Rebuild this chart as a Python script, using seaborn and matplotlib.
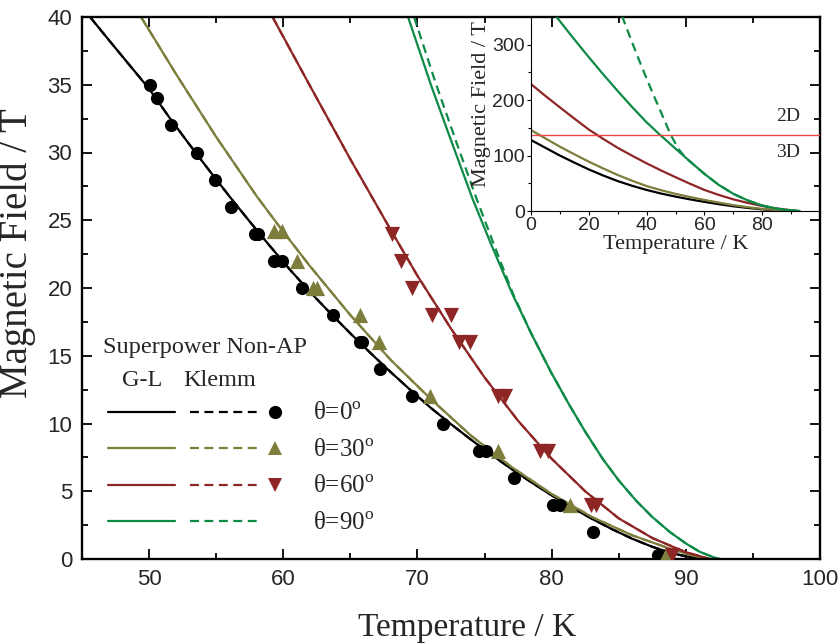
import matplotlib.pyplot as plt
import matplotlib.ticker as ticker
from matplotlib.lines import Line2D
from matplotlib.legend_handler import HandlerBase
import seaborn as sns

# # Data
#
# main panel: G-L fits (K, T)
t_gl_0 = [45.6, 47, 48.5, 50, 51.5, 53, 54.5, 56, 57.5, 59, 60.5, 62, 63.5, 65, 66.5, 68, 69.5,
          71, 72.5, 74, 75.5, 77, 78.5, 80, 81.5, 83, 84.5, 86, 87.5, 89, 90, 91, 91.5]
h_gl_0 = [40, 38.3, 36.5, 34.7, 32.6, 30.6, 28.65, 26.75, 24.9, 23.1, 21.35, 19.7, 18.15, 16.65, 15.2,
          13.8, 12.45, 11.15, 9.95, 8.8, 7.7, 6.65, 5.65, 4.7, 3.8, 2.97, 2.2, 1.5, 0.9, 0.42, 0.2, 0.05, 0]
t_gl_30 = [49.4, 52, 55, 58, 60, 62, 65, 68, 71, 74, 77, 80, 83, 86, 89, 90.5, 91.5]
h_gl_30 = [40, 35.8, 31.15, 26.8, 24.15, 21.6, 18.0, 14.7, 11.8, 9.1, 6.8, 4.8, 3.1, 1.75, 0.7, 0.26, 0]
t_gl_60 = [59.2, 62, 65, 68, 70, 72.5, 75, 77.5, 80, 82.5, 85, 87.5, 90, 91.8]
h_gl_60 = [40, 34.9, 29.5, 24.3, 20.9, 17.0, 13.4, 10.2, 7.4, 5.0, 3.0, 1.55, 0.5, 0]
t_gl_90 = [69.3, 71, 72.5, 74.1, 75.5, 77.1, 78.5, 80, 81.3, 82.5, 83.8, 85, 86.3, 87.5, 88.8,
           90, 91, 92, 92.5]
h_gl_90 = [40, 35.0, 30.9, 26.6, 23.2, 19.5, 16.6, 13.7, 11.4, 9.4, 7.4, 5.8, 4.3, 3.1, 2.0,
           1.15, 0.55, 0.15, 0]

# Klemm fits: on top of the G-L curves except for theta=90
t_kl_90 = [69.75, 71.4, 72.85, 74.4, 75.7, 77.15, 78.5, 80, 81.3, 82.5, 83.8, 85, 86.3, 87.5, 88.8,
           90, 91, 92, 92.5]
h_kl_90 = [40, 35.0, 30.9, 26.6, 23.2, 19.5, 16.6, 13.7, 11.4, 9.4, 7.4, 5.8, 4.3, 3.1, 2.0,
           1.15, 0.55, 0.15, 0]

# measured points, Superpower Non-AP
t_pts_0 = [50.1, 50.6, 51.6, 53.6, 54.9, 56.1, 57.9, 58.1, 59.3, 59.9, 61.4, 63.7,
           65.7, 65.9, 67.2, 69.6, 71.9, 74.6, 75.1, 77.2, 80.1, 80.6, 83.1, 87.9]
h_pts_0 = [35, 34, 32, 30, 28, 26, 24, 24, 22, 22, 20, 18,
           16, 16, 14, 12, 10, 8, 8, 6, 4, 4, 2, 0.3]
t_pts_30 = [59.3, 59.9, 61.0, 62.2, 62.5, 65.7, 67.1, 70.9, 76.0, 81.4, 88.5]
h_pts_30 = [24.2, 24.2, 22, 20, 20, 18, 16, 12, 8, 4, 0.3]
t_pts_60 = [68.1, 68.8, 69.6, 71.1, 72.5, 73.1, 73.9, 76.0, 76.5, 79.1, 79.7, 82.9, 83.3, 89.0]
h_pts_60 = [24, 22, 20, 18, 18, 16, 16, 12, 12, 8, 8, 4, 4, 0.3]

# inset: 0 - 100 K
ti_all = [0, 5, 10, 15, 20, 25, 30, 35, 40, 45, 50, 55, 60, 65, 70, 75, 80, 85, 90, 92]
hi_0 = [128, 114, 100, 87.3, 75, 64, 54, 45.5, 38, 31.5, 26, 21, 16.5, 12.3, 8.5, 5.5, 3, 1.2, 0.3, 0]
hi_30 = [146, 131, 116, 102.3, 89, 76.7, 65, 54.5, 45, 37.5, 31, 25.3, 20, 15.1, 10.5, 6.9, 3.8, 1.7, 0.4, 0]
hi_60 = [229, 207.5, 187, 166.7, 147, 130, 114, 99.7, 86, 73.2, 61, 49.2, 38, 29, 21, 14.6, 9, 4.6, 1.5, 0]
ti_90 = [8.5, 10, 15, 20, 25, 30, 35, 40, 44, 50, 55, 60, 65, 70, 75, 80, 85, 90, 93]
hi_90 = [352, 342.5, 309.5, 277.5, 246.5, 216.5, 187.5, 160, 140.5, 112.5, 89.5, 67, 47, 31, 19, 10, 4.2, 1, 0]
ti_90k = [31.5, 33, 35, 37.8, 40, 42.5, 45, 48.3, 51, 53.5, 56, 60, 65, 70, 75, 80, 85, 90, 93]
hi_90k = [352, 331, 304, 267, 239, 208, 178, 138, 112, 96, 85, 67, 47, 31, 19, 10, 4.2, 1, 0]
h_2d3d = 138

angles = ['0', '30', '60', '90']
colors = {'0': '#000000', '30': '#7d7d3c', '60': '#8e2626', '90': '#0e8a47'}
markers = {'0': 'o', '30': '^', '60': 'v', '90': None}

sns.set_theme(style='ticks')
plt.rcParams['font.family'] = ['Liberation Sans', 'DejaVu Sans']
plt.rcParams['mathtext.fontset'] = 'custom'
plt.rcParams['mathtext.rm'] = 'Liberation Serif'
serif = ['Liberation Serif', 'DejaVu Serif']
dash = (0, (4, 2.5))

fig = plt.figure(figsize=(8.4, 6.44), dpi=100)
ax = fig.add_axes([82 / 840, 1 - 559 / 644, 738 / 840, 542 / 644])

gl = {'0': (t_gl_0, h_gl_0), '30': (t_gl_30, h_gl_30),
      '60': (t_gl_60, h_gl_60), '90': (t_gl_90, h_gl_90)}
kl = {'0': (t_gl_0, h_gl_0), '30': (t_gl_30, h_gl_30),
      '60': (t_gl_60, h_gl_60), '90': (t_kl_90, h_kl_90)}
pts = {'0': (t_pts_0, h_pts_0), '30': (t_pts_30, h_pts_30), '60': (t_pts_60, h_pts_60)}

handles = []
for a in angles:
    c = colors[a]
    sns.lineplot(x=gl[a][0], y=gl[a][1], ax=ax, color=c, lw=1.6, errorbar=None)
    solid = ax.lines[-1]
    sns.lineplot(x=kl[a][0], y=kl[a][1], ax=ax, color=c, lw=1.6, errorbar=None, linestyle=dash)
    dashed = ax.lines[-1]
    if a in pts:
        size = 90 if markers[a] == 'o' else 120
        sns.scatterplot(x=pts[a][0], y=pts[a][1], ax=ax, color=c, marker=markers[a],
                        s=size, linewidth=0, zorder=3)
    handles.append((solid, dashed, markers[a]))

ax.set_xlim(45, 100)
ax.set_ylim(0, 40)
ax.xaxis.set_major_locator(ticker.MultipleLocator(10))
ax.xaxis.set_minor_locator(ticker.MultipleLocator(5))
ax.yaxis.set_major_locator(ticker.MultipleLocator(5))
ax.yaxis.set_minor_locator(ticker.MultipleLocator(2.5))
ax.tick_params(which='both', direction='in', top=True, right=True, width=1.3, color='black')
ax.tick_params(which='major', length=7, labelsize=16, pad=7)
ax.tick_params(which='minor', length=4)
for s in ax.spines.values():
    s.set_linewidth(1.7)
    s.set_color('black')

ax.set_xlabel('Temperature / K', fontsize=24, family=serif)
ax.xaxis.set_label_coords(0.522, -0.098)
ax.set_ylabel('Magnetic Field / T', fontsize=28, family=serif)
ax.yaxis.set_label_coords(-0.062, 0.565)


# custom legend key: solid line, dashed line, marker
class RowHandler(HandlerBase):
    def create_artists(self, legend, orig_handle, xdescent, ydescent, width, height, fontsize, trans):
        solid, dashed, mk = orig_handle
        x0 = -xdescent
        y = (height - ydescent) / 2
        out = []
        a1 = Line2D([x0, x0 + 0.38 * width], [y, y])
        a1.update_from(solid)
        a2 = Line2D([x0 + 0.46 * width, x0 + 0.84 * width], [y, y])
        a2.update_from(dashed)
        out += [a1, a2]
        if mk is not None:
            a3 = Line2D([x0 + 0.94 * width], [y], marker=mk, linestyle='none',
                        color=solid.get_color(), markersize=10.5 if mk != 'o' else 9.5,
                        markeredgewidth=0)
            out.append(a3)
        for art in out:
            art.set_transform(trans)
        return out


labels = [r'θ=' + a + r'$^{\rm o}$' for a in angles]
leg = ax.legend(handles, labels, handler_map={tuple: RowHandler()}, loc='upper left',
                bbox_to_anchor=(0.0352, 0.288), frameon=False, borderpad=0, borderaxespad=0,
                handlelength=7.1, handletextpad=1.1, labelspacing=0.56,
                prop={'family': serif, 'size': 18})

ax.text(0.0285, 0.380, 'Superpower Non-AP', transform=ax.transAxes, family=serif,
        fontsize=17.5, va='baseline', ha='left')
ax.text(0.054, 0.319, 'G-L', transform=ax.transAxes, family=serif, fontsize=17.5,
        va='baseline', ha='left')
ax.text(0.137, 0.319, 'Klemm', transform=ax.transAxes, family=serif, fontsize=17.5,
        va='baseline', ha='left')

# # Inset
axin = fig.add_axes([531 / 840, 1 - 211 / 644, 289 / 840, 194 / 644])
axin.set_facecolor('none')
inset = {'0': (ti_all, hi_0), '30': (ti_all, hi_30), '60': (ti_all, hi_60), '90': (ti_90, hi_90)}
for a in angles:
    sns.lineplot(x=inset[a][0], y=inset[a][1], ax=axin, color=colors[a], lw=1.6, errorbar=None)
sns.lineplot(x=ti_90k, y=hi_90k, ax=axin, color=colors['90'], lw=1.6, errorbar=None, linestyle=dash)
axin.axhline(h_2d3d, color='#f04848', lw=1.0)
axin.text(93, 171, '2D', family=serif, fontsize=14, ha='right', va='center')
axin.text(93, 106, '3D', family=serif, fontsize=14, ha='right', va='center')

axin.set_xlim(0, 100)
axin.set_ylim(0, 350)
axin.set_xticks([0, 20, 40, 60, 80])
axin.xaxis.set_minor_locator(ticker.FixedLocator([10, 30, 50, 70, 90]))
axin.set_yticks([0, 100, 200, 300])
axin.yaxis.set_minor_locator(ticker.FixedLocator([50, 150, 250]))
axin.tick_params(which='both', direction='out', width=0.8, color='black', labelsize=14, pad=1.5)
axin.tick_params(which='major', length=3)
axin.tick_params(which='minor', length=2)
axin.spines['top'].set_visible(False)
axin.spines['right'].set_visible(False)
for s in ['left', 'bottom']:
    axin.spines[s].set_linewidth(0.8)
    axin.spines[s].set_color('black')
axin.set_xlabel('Temperature / K', fontsize=16, family=serif)
axin.xaxis.set_label_coords(0.5, -0.125)
axin.set_ylabel('Magnetic Field / T', fontsize=16, family=serif)
axin.yaxis.set_label_coords(-0.14, 0.55)

fig.savefig('out.png', dpi=100)
